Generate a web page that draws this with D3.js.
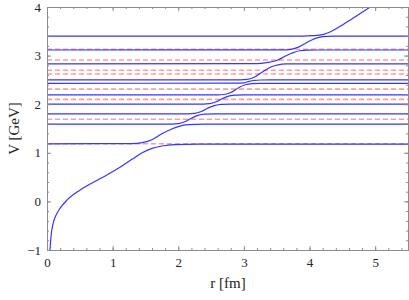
<!DOCTYPE html>
<html>
<head>
<meta charset="utf-8">
<script src="https://cdn.jsdelivr.net/npm/d3@7"></script>
<style>
  body { margin: 0; background: #fff; }
  text { font-family: "Liberation Serif", "Times New Roman", serif; }
</style>
</head>
<body>
<div id="chart"></div>
<script>
const rTicks = [0, 1, 2, 3, 4, 5];
const vTicks = [-1, 0, 1, 2, 3, 4];

// uncoupled thresholds (red dashed), GeV
const thresholds = [1.185, 1.69, 2.10, 2.31, 2.62, 2.70, 2.91, 3.13];

// adiabatic levels, [r (fm), V (GeV)]
const branch0 = [[0.045, -1], [0.055, -0.82], [0.07, -0.62], [0.1, -0.42], [0.15, -0.25], [0.2, -0.14],
  [0.3, 0.02], [0.5, 0.23], [0.8, 0.46], [1.1, 0.69], [1.3, 0.87], [1.45, 1.0], [1.6, 1.09],
  [1.75, 1.14], [1.95, 1.17], [2.3, 1.18], [5.5, 1.18]];
const branch1 = [[0, 1.185], [1.3, 1.19], [1.45, 1.21], [1.6, 1.27], [1.75, 1.39], [1.9, 1.49],
  [2.0, 1.54], [2.15, 1.58], [2.4, 1.59], [5.5, 1.59]];
const branch2 = [[0, 1.59], [1.9, 1.592], [2.0, 1.60], [2.1, 1.64], [2.2, 1.71], [2.3, 1.77],
  [2.4, 1.795], [2.55, 1.80], [5.5, 1.80]];
const branch3 = [[0, 1.80], [2.15, 1.802], [2.25, 1.81], [2.35, 1.85], [2.45, 1.92], [2.55, 1.97],
  [2.65, 1.995], [2.8, 2.0], [5.5, 2.0]];
const branch4 = [[0, 2.0], [2.38, 2.002], [2.48, 2.01], [2.58, 2.05], [2.68, 2.12], [2.78, 2.17],
  [2.88, 2.188], [3.0, 2.19], [5.5, 2.19]];
const branch5 = [[0, 2.19], [2.6, 2.192], [2.7, 2.20], [2.8, 2.24], [2.92, 2.34], [3.02, 2.40],
  [3.12, 2.425], [3.25, 2.43], [5.5, 2.43]];
const branch6 = [[0, 2.43], [2.9, 2.432], [3.0, 2.44], [3.08, 2.47], [3.16, 2.49], [3.26, 2.498],
  [3.4, 2.50], [5.5, 2.50]];
const branch7 = [[0, 2.50], [2.95, 2.502], [3.05, 2.51], [3.15, 2.55], [3.3, 2.68], [3.42, 2.77],
  [3.52, 2.81], [3.65, 2.828], [3.8, 2.83], [5.5, 2.83]];
const branch8 = [[0, 2.83], [3.2, 2.834], [3.35, 2.855], [3.5, 2.90], [3.62, 2.98], [3.75, 3.06],
  [3.85, 3.10], [3.98, 3.113], [4.1, 3.115], [5.5, 3.115]];
const branch9 = [[0, 3.115], [3.6, 3.118], [3.72, 3.13], [3.84, 3.18], [3.96, 3.27], [4.08, 3.35],
  [4.2, 3.39], [4.35, 3.40], [5.5, 3.40]];
const branch10 = [[0, 3.40], [3.9, 3.402], [4.05, 3.41], [4.2, 3.43], [4.35, 3.51], [4.5, 3.63],
  [4.65, 3.76], [4.8, 3.89], [4.95, 4.02]];

const branches = [branch0, branch1, branch2, branch3, branch4, branch5, branch6, branch7, branch8, branch9, branch10];

const width = 409, height = 300;
const margin = { top: 7, right: 1, bottom: 50, left: 47 };

const svg = d3.select("#chart").append("svg")
  .attr("width", width)
  .attr("height", height);

const x = d3.scaleLinear().domain([0, 5.5]).range([margin.left, width - margin.right]);
const y = d3.scaleLinear().domain([-1, 4]).range([height - margin.bottom, margin.top]);

svg.append("clipPath").attr("id", "plot")
  .append("rect")
  .attr("x", margin.left).attr("y", margin.top)
  .attr("width", x(5.5) - x(0)).attr("height", y(-1) - y(4));

const plot = svg.append("g").attr("clip-path", "url(#plot)");

// thresholds under the levels
plot.selectAll("line.thr")
  .data(thresholds)
  .enter().append("line")
  .attr("class", "thr")
  .attr("x1", x(0)).attr("x2", x(5.5))
  .attr("y1", d => y(d)).attr("y2", d => y(d))
  .attr("stroke", "#ff9c9c")
  .attr("stroke-width", 1.6)
  .attr("stroke-dasharray", "5,3");

const line = d3.line()
  .x(d => x(d[0]))
  .y(d => y(d[1]))
  .curve(d3.curveMonotoneX);

plot.selectAll("path.lev")
  .data(branches)
  .enter().append("path")
  .attr("class", "lev")
  .attr("fill", "none")
  .attr("stroke", "#3535ff")
  .attr("stroke-width", 1.2)
  .attr("d", line);

// frame with inward ticks on all sides
const frameColor = "#8c8c8c";
const minorR = d3.range(0, 5.51, 0.2);
const minorV = d3.range(-1, 4.01, 0.2);

const axB = svg.append("g").attr("transform", `translate(0,${y(-1)})`)
  .call(d3.axisBottom(x).tickValues(rTicks).tickSize(-4).tickPadding(8).tickFormat(d3.format("d")));
const axT = svg.append("g").attr("transform", `translate(0,${y(4)})`)
  .call(d3.axisTop(x).tickValues(rTicks).tickSize(-4).tickFormat(""));
const axL = svg.append("g").attr("transform", `translate(${x(0)},0)`)
  .call(d3.axisLeft(y).tickValues(vTicks).tickSize(-4).tickPadding(6)
    .tickFormat(d => d < 0 ? "\u2212" + Math.abs(d) : d));
const axR = svg.append("g").attr("transform", `translate(${x(5.5)},0)`)
  .call(d3.axisRight(y).tickValues(vTicks).tickSize(-4).tickFormat(""));

const mB = svg.append("g").attr("transform", `translate(0,${y(-1)})`)
  .call(d3.axisBottom(x).tickValues(minorR).tickSize(-2).tickFormat(""));
const mT = svg.append("g").attr("transform", `translate(0,${y(4)})`)
  .call(d3.axisTop(x).tickValues(minorR).tickSize(-2).tickFormat(""));
const mL = svg.append("g").attr("transform", `translate(${x(0)},0)`)
  .call(d3.axisLeft(y).tickValues(minorV).tickSize(-2).tickFormat(""));
const mR = svg.append("g").attr("transform", `translate(${x(5.5)},0)`)
  .call(d3.axisRight(y).tickValues(minorV).tickSize(-2).tickFormat(""));

[axB, axT, axL, axR, mB, mT, mL, mR].forEach(g => {
  g.attr("font-family", null);
  g.select(".domain").attr("stroke", frameColor).attr("stroke-width", 1);
  g.selectAll(".tick line").attr("stroke", frameColor);
  g.selectAll(".tick text")
    .attr("fill", "#222")
    .style("font-family", "'Liberation Serif', 'Times New Roman', serif")
    .style("font-size", "13px");
});

svg.append("text")
  .attr("x", 228)
  .attr("y", 288)
  .attr("text-anchor", "middle")
  .style("font-size", "15px")
  .attr("fill", "#222")
  .text("r [fm]");

svg.append("text")
  .attr("transform", `translate(19,${(y(-1) + y(4)) / 2}) rotate(-90)`)
  .attr("text-anchor", "middle")
  .style("font-size", "15px")
  .attr("fill", "#222")
  .text("V [GeV]");
</script>
</body>
</html>
